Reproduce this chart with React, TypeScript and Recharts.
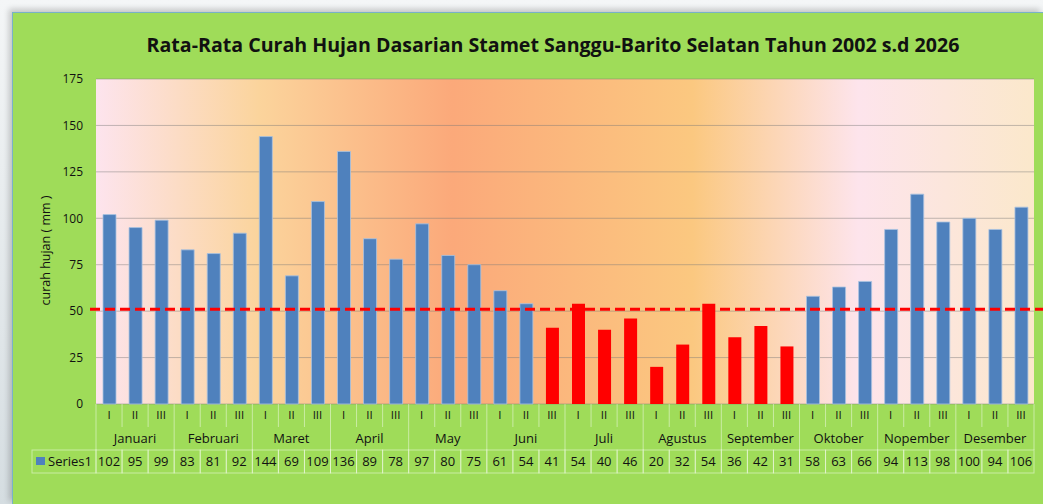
import { BarChart, Bar, XAxis, YAxis, CartesianGrid, ReferenceLine, Cell } from 'recharts'

// data curah hujan rata-rata per dasarian
const bulan = ['Januari', 'Februari', 'Maret', 'April', 'May', 'Juni', 'Juli', 'Agustus', 'September', 'Oktober', 'Nopember', 'Desember']
const dasarian = ['I', 'II', 'III']
const curahHujan = [
  102, 95, 99, 83, 81, 92, 144, 69, 109, 136, 89, 78,
  97, 80, 75, 61, 54, 41, 54, 40, 46, 20, 32, 54,
  36, 42, 31, 58, 63, 66, 94, 113, 98, 100, 94, 106,
]
const dasarianMerah = [
  'Juni III', 'Juli I', 'Juli II', 'Juli III', 'Agustus I', 'Agustus II',
  'Agustus III', 'September I', 'September II', 'September III',
]
const batas = 51
const yTicks = [0, 25, 50, 75, 100, 125, 150, 175]

const data = curahHujan.map((nilai, i) => {
  const b = bulan[Math.floor(i / 3)]
  const d = dasarian[i % 3]
  return { kode: `${b} ${d}`, bulan: b, dasarian: d, nilai }
})

const WIDTH = 1043
const HEIGHT = 504
const PLOT_W = 938
const BW = PLOT_W / data.length
const garis = 'rgba(255,255,255,0.45)'
const teks = '#111'
const font = '"Open Sans", Lato, sans-serif'

function DasarianTick({ x, y, index }: any) {
  const kiri = x - BW / 2
  const awalBulan = index % 3 === 0
  return (
    <g>
      <line x1={kiri} y1={y} x2={kiri} y2={y + (awalBulan ? 46 : 23)} stroke={garis} />
      {index === data.length - 1 && (
        <line x1={x + BW / 2} y1={y} x2={x + BW / 2} y2={y + 46} stroke={garis} />
      )}
      <text x={x} y={y + 15} textAnchor="middle" fontSize={11.5} fill={teks}>
        {data[index].dasarian}
      </text>
    </g>
  )
}

function BulanTick({ x, y, index }: any) {
  if (index % 3 !== 1) return <g />
  return (
    <text x={x} y={y + 16} textAnchor="middle" fontSize={13} fill={teks}>
      {data[index].bulan}
    </text>
  )
}

function NilaiTick({ x, y, index }: any) {
  const kiri = x - BW / 2
  return (
    <g>
      {index === 0 && (
        <g>
          <rect x={kiri - 64} y={y} width={64} height={23} fill="none" stroke={garis} />
          <rect x={kiri - 60} y={y + 7} width={9} height={8} fill="#4F81BD" />
          <text x={kiri - 48} y={y + 16} fontSize={13} fill={teks}>Series1</text>
        </g>
      )}
      <rect x={kiri} y={y} width={BW} height={23} fill="none" stroke={garis} />
      <text x={x} y={y + 16} textAnchor="middle" fontSize={13} fill={teks}>
        {data[index].nilai}
      </text>
    </g>
  )
}

export default function App() {
  return (
    <div
      style={{
        position: 'absolute',
        left: 0,
        top: 0,
        width: WIDTH,
        height: HEIGHT,
        background: 'linear-gradient(180deg, #f4f6f7 0%, #d5dde1 100%)',
        overflow: 'hidden',
        fontFamily: font,
      }}
    >
      <div
        style={{
          position: 'absolute',
          left: 12,
          top: 12,
          right: 0,
          bottom: 0,
          background: '#9FDC59',
          borderTop: '1px solid #78b2c8',
          borderLeft: '1px solid #78b2c8',
          boxShadow: '-3px -3px 6px rgba(0,0,0,0.2)',
        }}
      />
      <div
        style={{
          position: 'absolute',
          left: 63,
          top: 31,
          width: 980,
          textAlign: 'center',
          fontSize: 19.6,
          lineHeight: '28px',
          fontWeight: 700,
          color: '#111',
        }}
      >
        Rata-Rata Curah Hujan Dasarian Stamet Sanggu-Barito Selatan Tahun 2002 s.d 2026
      </div>
      <div style={{ position: 'absolute', left: 0, top: 0 }}>
        <BarChart
          width={WIDTH}
          height={HEIGHT}
          data={data}
          margin={{ top: 79, right: 9, bottom: 31, left: 46 }}
        >
          <defs>
            <linearGradient id="latar" x1="0" y1="0" x2="1" y2="0">
              <stop offset="0" stopColor="#FDE4EE" />
              <stop offset="0.174" stopColor="#FBD49C" />
              <stop offset="0.38" stopColor="#FBA97A" />
              <stop offset="0.636" stopColor="#FBC880" />
              <stop offset="0.813" stopColor="#FDE4EC" />
              <stop offset="1" stopColor="#FBE8CB" />
            </linearGradient>
          </defs>
          <CartesianGrid
            vertical={false}
            fill="url(#latar)"
            fillOpacity={1}
            stroke="rgba(120,120,120,0.45)"
          />
          <YAxis
            width={50}
            domain={[0, 175]}
            ticks={yTicks}
            interval={0}
            axisLine={false}
            tickLine={false}
            tickSize={0}
            tickMargin={13}
            tick={{ fontSize: 12, fill: teks }}
            label={{
              content: ({ viewBox }: any) => {
                const cx = viewBox.x - 1
                const cy = viewBox.y + viewBox.height / 2 + 9
                return (
                  <text
                    x={cx}
                    y={cy}
                    transform={`rotate(-90 ${cx} ${cy})`}
                    textAnchor="middle"
                    dominantBaseline="central"
                    fontSize={12.5}
                    fill={teks}
                  >
                    curah hujan ( mm )
                  </text>
                )
              },
            }}
          />
          <XAxis
            dataKey="kode"
            interval={0}
            height={23}
            axisLine={false}
            tickLine={false}
            tickSize={0}
            tickMargin={0}
            tick={(p: any) => <DasarianTick {...p} />}
          />
          <XAxis
            xAxisId="bulan"
            dataKey="kode"
            interval={0}
            height={23}
            axisLine={false}
            tickLine={false}
            tickSize={0}
            tickMargin={0}
            tick={(p: any) => <BulanTick {...p} />}
          />
          <XAxis
            xAxisId="nilai"
            dataKey="kode"
            interval={0}
            height={23}
            axisLine={false}
            tickLine={false}
            tickSize={0}
            tickMargin={0}
            tick={(p: any) => <NilaiTick {...p} />}
          />
          <Bar dataKey="nilai" barSize={13} isAnimationActive={false}>
            {data.map((d) => (
              <Cell
                key={d.kode}
                fill={dasarianMerah.includes(d.kode) ? '#FF0000' : '#4F81BD'}
                stroke={dasarianMerah.includes(d.kode) ? 'none' : 'rgba(170,195,225,0.8)'}
                strokeWidth={1}
              />
            ))}
          </Bar>
          <ReferenceLine
            y={batas}
            ifOverflow="visible"
            shape={(p: any) => (
              <line
                x1={p.x1 - 6}
                y1={p.y1}
                x2={p.x2 + 10}
                y2={p.y2}
                stroke="#FF0000"
                strokeWidth={3}
                strokeDasharray="10 5"
              />
            )}
          />
        </BarChart>
      </div>
    </div>
  )
}
